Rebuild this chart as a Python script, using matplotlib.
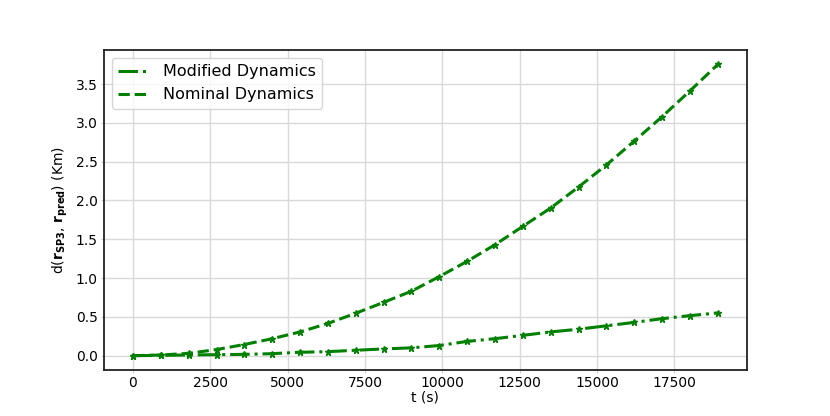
import numpy as np
import matplotlib
matplotlib.use("Agg")
import matplotlib.pyplot as plt

# time samples (s)
t = [0, 900, 1800, 2700, 3600, 4500, 5400, 6300, 7200, 8100, 9000,
     9900, 10800, 11700, 12600, 13500, 14400, 15300, 16200, 17100, 18000, 18900]

# distance between SP3 and predicted position (Km)
modified = [0.0, 0.004, 0.009, 0.013, 0.017, 0.026, 0.044, 0.052, 0.07, 0.087, 0.101,
            0.131, 0.184, 0.219, 0.262, 0.306, 0.341, 0.385, 0.429, 0.477, 0.516, 0.551]
nominal = [0.0, 0.009, 0.03, 0.079, 0.144, 0.219, 0.306, 0.416, 0.547, 0.687, 0.831,
           1.019, 1.216, 1.43, 1.667, 1.903, 2.174, 2.458, 2.765, 3.08, 3.412, 3.753]

fig = plt.figure(figsize=(8.3, 4.16), dpi=100)
ax = fig.add_subplot(111)

ax.plot(t, modified, color='green', linestyle='-.', linewidth=2.2, label='Modified Dynamics')
ax.plot(t, nominal, color='green', linestyle='--', linewidth=2.2, label='Nominal Dynamics')
# star markers drawn separately so the legend shows only the line styles
ax.plot(t, modified, color='green', linestyle='none', marker='*', markersize=5)
ax.plot(t, nominal, color='green', linestyle='none', marker='*', markersize=5)

ax.grid(True, color='#d9d9d9', linewidth=1)
for s in ax.spines.values():
    s.set_linewidth(1.3)
    s.set_color('#222222')
ax.tick_params(length=2.5, pad=2, color='#cccccc', labelsize=10)
ax.set_xlabel('t (s)', labelpad=0)
ax.set_ylabel(r'd($\mathbf{r_{SP3}}$, $\mathbf{r_{pred}}$) (Km)')
ax.legend(loc='upper left', fontsize=11.5)

fig.savefig("out.png", dpi=100)
